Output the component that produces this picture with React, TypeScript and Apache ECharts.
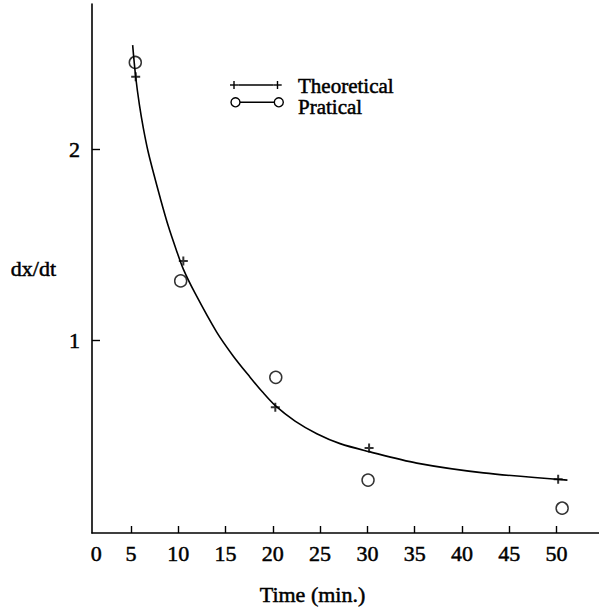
import React, { useEffect, useRef } from "react";
import * as echarts from "echarts";

// Fitted theoretical curve
const curveX = [5.17, 5.49, 5.89, 6.3, 6.79, 7.35, 8.06, 8.94, 9.76, 10.53, 11.77, 14.06, 15.82, 17.59, 18.91, 20.26, 22.35, 24.65, 27.11, 30.18, 35.23, 42.28, 51.16];
const curveY = [2.545, 2.379, 2.23, 2.11, 1.99, 1.88, 1.749, 1.597, 1.476, 1.372, 1.246, 1.042, 0.916, 0.806, 0.728, 0.657, 0.576, 0.51, 0.458, 0.416, 0.356, 0.305, 0.267];

// Theoretical points (+)
const theoX = [5.49, 10.53, 20.26, 30.18, 50.18];
const theoY = [2.379, 1.414, 0.648, 0.435, 0.271];

// Practical points (o)
const pracX = [5.45, 10.25, 20.31, 30.07, 50.6];
const pracY = [2.454, 1.31, 0.805, 0.267, 0.12];

// Axis ticks
const xTicks = [5, 10, 15, 20, 25, 30, 35, 40, 45, 50];
const xTickLabels = ["0", "5", "10", "15", "20", "25", "30", "35", "40", "45", "50"];
const yTicks = [1, 2];

// Legend entries
const legendNames = ["Theoretical", "Pratical"];

const xMin = 0.87;
const xMax = 54.5;
const yMin = -0.01;
const yMax = 2.76;

const FONT = "'Liberation Serif', 'Times New Roman', serif";

export default function App() {
  const ref = useRef<HTMLDivElement>(null);
  useEffect(() => {
    document.body.style.margin = "0";
    const chart = echarts.init(ref.current!, null, { renderer: "svg" });
    const pair = (xs: number[], ys: number[]) => xs.map((x, i) => [x, ys[i]]);
    const labelValues = [xMin + 0.45, ...xTicks];
    const labelFor = (v: number) => {
      const idx = Math.round(v / 5);
      return xTickLabels[idx] ?? String(v);
    };
    const black = "#000";
    const heavy = { textBorderColor: black, textBorderWidth: 0.5 };
    const legendLine = (x1: number, y1: number, x2: number, y2: number) => ({
      type: "line",
      shape: { x1, y1, x2, y2 },
      style: { stroke: black, lineWidth: 1.4 },
    });
    const textStyle = (text: string, size = 22) => ({
      text,
      font: `${size}px ${FONT}`,
      fill: black,
      stroke: black,
      lineWidth: 0.5,
      verticalAlign: "middle",
    });
    chart.setOption({
      animation: false,
      backgroundColor: "#fff",
      grid: { left: 92, right: 0, top: 4, bottom: 81 },
      xAxis: {
        type: "value",
        min: xMin,
        max: xMax,
        axisLine: { show: true, onZero: false, lineStyle: { color: black, width: 1.6 } },
        axisTick: {
          show: true,
          inside: true,
          length: 7,
          customValues: xTicks,
          lineStyle: { color: black, width: 1.4 },
        },
        axisLabel: {
          customValues: labelValues,
          formatter: (v: number) => labelFor(v),
          margin: 9,
          fontSize: 22,
          fontFamily: FONT,
          color: black,
          ...heavy,
        },
        splitLine: { show: false },
      },
      yAxis: {
        type: "value",
        min: yMin,
        max: yMax,
        name: "dx/dt",
        nameLocation: "middle",
        nameRotate: 0,
        nameGap: 36,
        nameTextStyle: { fontSize: 22, fontFamily: FONT, color: black, padding: [12, 0, 0, 0], ...heavy },
        axisLine: { show: true, onZero: false, lineStyle: { color: black, width: 1.6 } },
        axisTick: {
          show: true,
          inside: true,
          length: 8,
          customValues: yTicks,
          lineStyle: { color: black, width: 1.4 },
        },
        axisLabel: {
          customValues: yTicks,
          margin: 12,
          fontSize: 22,
          fontFamily: FONT,
          color: black,
          ...heavy,
        },
        splitLine: { show: false },
      },
      graphic: [
        {
          type: "text",
          x: 312.5,
          y: 594,
          style: { ...textStyle("Time (min.)"), align: "center" },
        },
        // legend: Theoretical
        legendLine(230, 85, 238.3, 85),
        legendLine(234, 81, 234, 89),
        legendLine(238.3, 85, 273.3, 85),
        legendLine(273.3, 85, 281.7, 85),
        legendLine(277.5, 81, 277.5, 89),
        {
          type: "text",
          x: 298,
          y: 86,
          style: textStyle(legendNames[0], 21),
        },
        // legend: Pratical
        {
          type: "circle",
          shape: { cx: 235.5, cy: 102.3, r: 4.5 },
          style: { fill: "#fff", stroke: black, lineWidth: 1.4 },
        },
        legendLine(240, 102.3, 274.3, 102.3),
        {
          type: "circle",
          shape: { cx: 278.8, cy: 102.3, r: 4.5 },
          style: { fill: "#fff", stroke: black, lineWidth: 1.4 },
        },
        {
          type: "text",
          x: 298,
          y: 106.5,
          style: textStyle(legendNames[1], 21),
        },
      ],
      series: [
        {
          name: "Theoretical curve",
          type: "line",
          data: pair(curveX, curveY),
          smooth: 0.3,
          showSymbol: false,
          lineStyle: { color: black, width: 1.6 },
        },
        {
          name: legendNames[0],
          type: "scatter",
          data: pair(theoX, theoY),
          symbol: "path://M5,0L5,10M0,5L10,5",
          symbolSize: 9,
          itemStyle: { color: "transparent", borderColor: black, borderWidth: 2 },
        },
        {
          name: legendNames[1],
          type: "scatter",
          data: pair(pracX, pracY),
          symbol: "circle",
          symbolSize: 12,
          itemStyle: { color: "transparent", borderColor: black, borderWidth: 1.5 },
        },
      ],
    });
    return () => chart.dispose();
  }, []);
  return <div ref={ref} style={{ width: 599, height: 614 }} />;
}
